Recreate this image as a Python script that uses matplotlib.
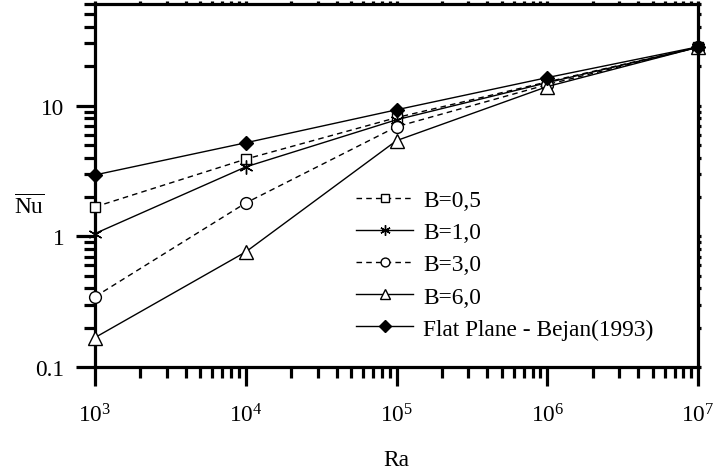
import matplotlib
matplotlib.use("Agg")
import matplotlib.pyplot as plt
from matplotlib.ticker import LogLocator, NullFormatter, FixedLocator, FixedFormatter

plt.rcParams['font.family'] = ['Liberation Serif', 'DejaVu Serif']
plt.rcParams['mathtext.fontset'] = 'custom'
plt.rcParams['mathtext.rm'] = 'Liberation Serif'
plt.rcParams['mathtext.it'] = 'Liberation Serif:italic'

ra = [1e3, 1e4, 1e5, 1e6, 1e7]
nu_b05 = [1.68, 3.9, 8.1, 15.2, 28.0]
nu_b10 = [1.05, 3.4, 7.8, 15.0, 28.0]
nu_b30 = [0.345, 1.8, 6.9, 14.5, 28.0]
nu_b60 = [0.168, 0.76, 5.4, 14.0, 28.0]
nu_flat = [2.95, 5.2, 9.3, 16.4, 28.2]
labels = ["B=0,5", "B=1,0", "B=3,0", "B=6,0", "Flat Plane - Bejan(1993)"]
xtick_labels = [r"$10^{3}$", r"$10^{4}$", r"$10^{5}$", r"$10^{6}$", r"$10^{7}$"]

FS = 16.8

fig = plt.figure(figsize=(7.15, 4.77), dpi=100)
ax = fig.add_axes([95/715, 1-368/477, (698-95)/715, (368-5)/477])
ax.set_xscale('log')
ax.set_yscale('log')
ax.set_xlim(1e3, 1e7)
ax.set_ylim(0.1, 60)

asterisk = (6, 2, 0)
common = dict(color='black', lw=1.0, clip_on=False, zorder=3)
ax.plot(ra, nu_b05, ls=(0, (4, 3)), marker='s', ms=7.5, mfc='white', mec='black', mew=1.0, label=labels[0], **common)
ax.plot(ra, nu_b10, ls='-', marker=asterisk, ms=10, mec='black', mew=1.0, label=labels[1], **common)
ax.plot(ra, nu_b30, ls=(0, (4, 3)), marker='o', ms=8.5, mfc='white', mec='black', mew=1.0, label=labels[2], **common)
ax.plot(ra, nu_b60, ls='-', marker='^', ms=10, mfc='white', mec='black', mew=1.0, label=labels[3], **common)
ax.plot(ra, nu_flat, ls='-', marker='D', ms=7.5, mfc='black', mec='black', mew=1.0, label=labels[4], **common)

for s in ax.spines.values():
    s.set_linewidth(2.3)

ax.xaxis.set_major_locator(FixedLocator(ra))
ax.xaxis.set_major_formatter(FixedFormatter(xtick_labels))
ax.xaxis.set_minor_locator(LogLocator(base=10, subs=range(2, 10)))
ax.xaxis.set_minor_formatter(NullFormatter())
ax.yaxis.set_major_locator(FixedLocator([0.1, 1, 10]))
ax.yaxis.set_major_formatter(FixedFormatter(["0.1", "1", "10"]))
ax.yaxis.set_minor_locator(LogLocator(base=10, subs=range(2, 10)))
ax.yaxis.set_minor_formatter(NullFormatter())

ax.tick_params(axis='both', which='major', direction='out', length=14, width=2.3, labelsize=FS, pad=8)
ax.tick_params(axis='both', which='minor', direction='out', length=8, width=2.3)
ax.tick_params(axis='x', which='major', pad=12)
ax.tick_params(axis='x', which='both', top=True, labeltop=False)
ax.tick_params(axis='y', which='both', right=True, labelright=False)
for t in ax.xaxis.get_major_ticks() + ax.xaxis.get_minor_ticks():
    t.tick2line.set_markersize(2)
for t in ax.yaxis.get_major_ticks() + ax.yaxis.get_minor_ticks():
    t.tick2line.set_markersize(2)

ax.set_xlabel("Ra", fontsize=FS, labelpad=16)
ax.set_ylabel(r"$\overline{\mathrm{Nu}}$", fontsize=FS, rotation=0, ha='center', va='center')
ax.yaxis.set_label_coords((29-95)/603, (368-207)/363)

leg = ax.legend(loc='upper left', bbox_to_anchor=((356-95)/603, (368-191)/363), frameon=False,
                fontsize=FS, handlelength=2.45, handletextpad=0.42, labelspacing=0.46,
                borderpad=0, borderaxespad=0, markerscale=0.75)

fig.savefig("out.png", dpi=100)
